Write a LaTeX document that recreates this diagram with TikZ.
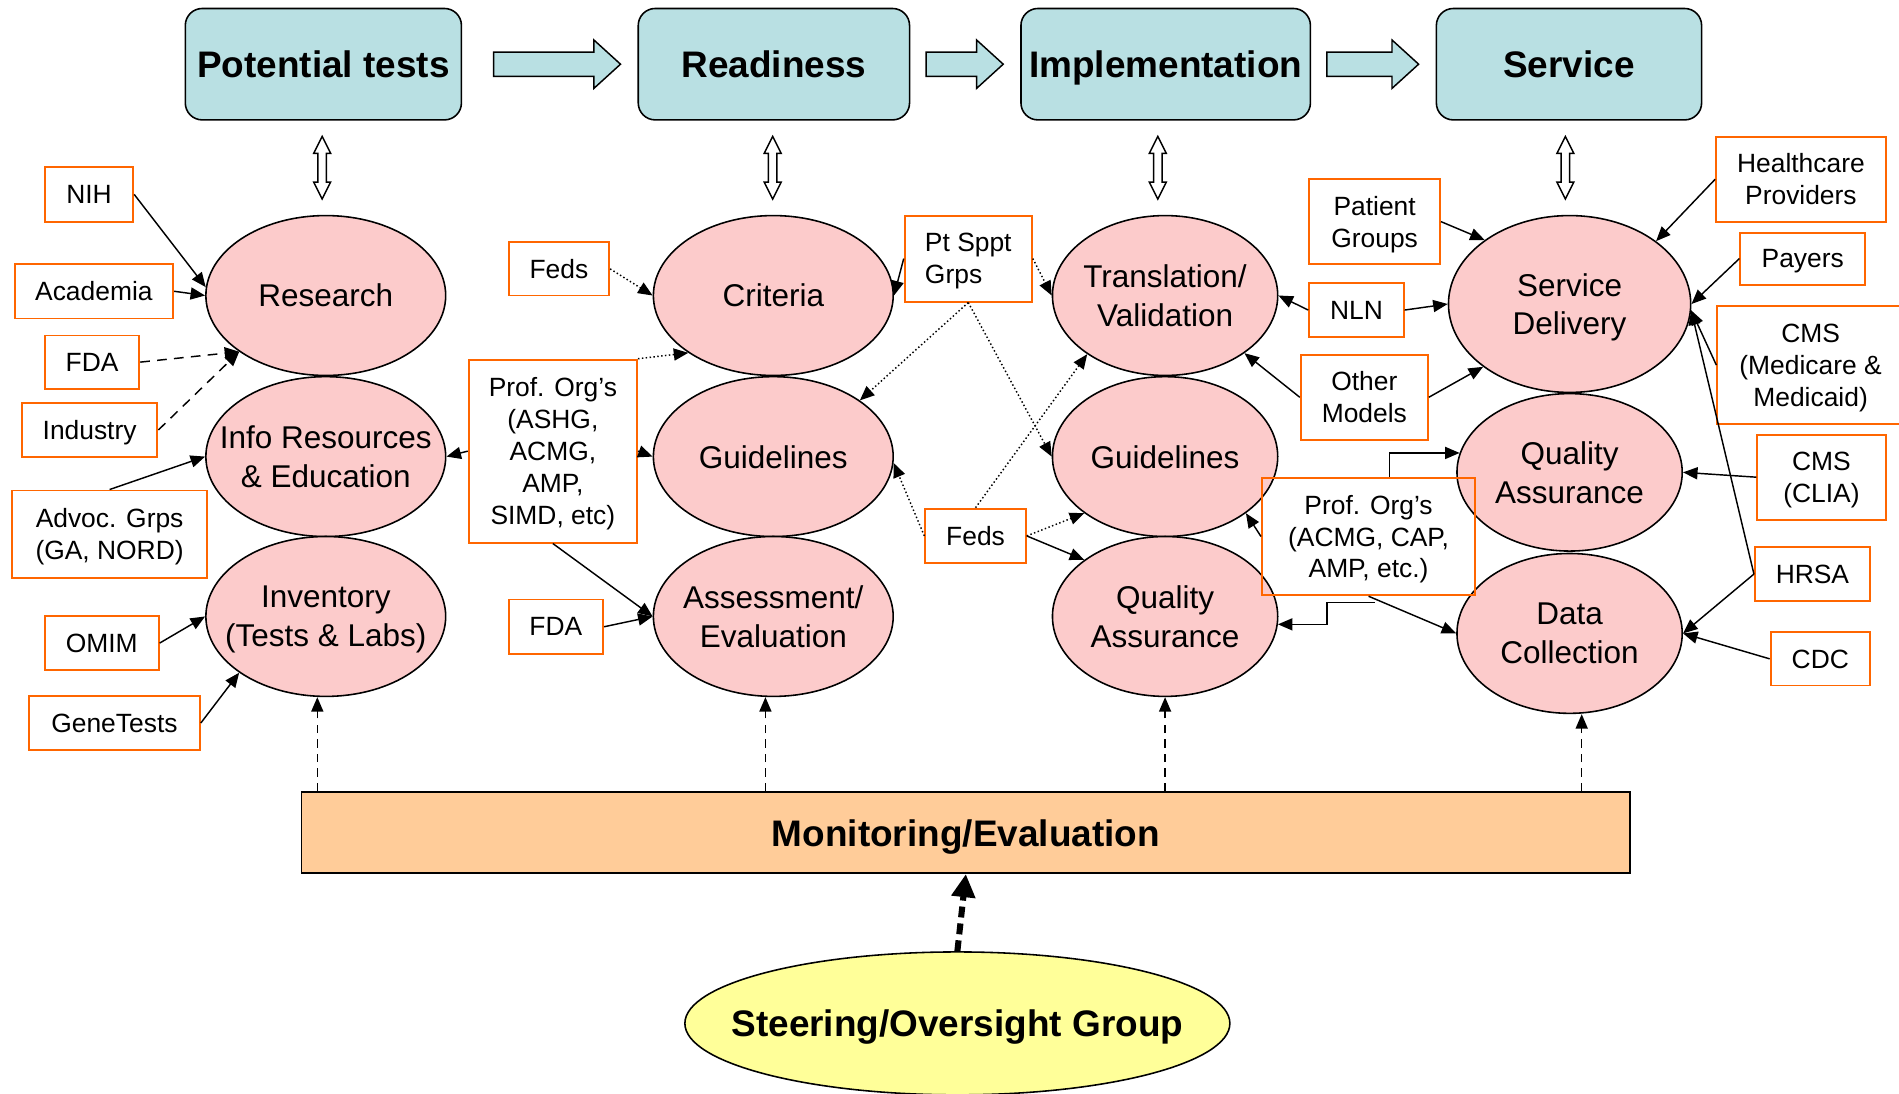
\documentclass[tikz,border=0pt]{standalone}
\usepackage{fontspec}
\setmainfont{Liberation Sans}
\usetikzlibrary{shapes.geometric,arrows.meta,calc}

\definecolor{stagefill}{RGB}{185,224,227}
\definecolor{ovalfill}{RGB}{252,203,203}
\definecolor{barfill}{RGB}{255,204,153}
\definecolor{steerfill}{RGB}{255,255,153}
\definecolor{actorline}{RGB}{255,102,0}

% block arrow between two stages
\newcommand\flowarrow[3]{%
  \draw[flowarr] ($(#1.east)+(#3,-10)$) -- ($(#2.west)+(-36,-10)$) -- ($(#2.west)+(-36,-20)$)
    -- ($(#2.west)+(-14,0)$) -- ($(#2.west)+(-36,20)$) -- ($(#2.west)+(-36,10)$)
    -- ($(#1.east)+(#3,10)$) -- cycle;}
% open two-way arrow from a stage down to its oval
\newcommand\linkarrow[3]{%
  \coordinate (u) at ($(#1.south)+(#3,13)$);
  \coordinate (w) at ($(u |- #2.north)+(0,-13)$);
  \draw[linkarr] (u) -- ++(7,14) -- ++(-3.5,0) -- ($(w)+(3.5,-14)$) -- ++(3.5,0) -- (w)
    -- ++(-7,-14) -- ++(3.5,0) -- ($(u)+(-3.5,14)$) -- ++(-3.5,0) -- cycle;}

\begin{document}
\begin{tikzpicture}[x=1pt,y=-1pt]
    \tikzset{every node/.style={text depth=0pt},
      wh/.style 2 args={minimum width=#1pt,minimum height=#2pt},
      stage/.style={draw,line width=1.3pt,fill=stagefill,rounded corners=14pt,inner sep=0pt,
        font=\fontsize{30.5}{36}\selectfont\bfseries},
      oval/.style={ellipse,draw,line width=1.3pt,fill=ovalfill,inner xsep=-40pt,inner ysep=0pt,
        wh={198}{132},align=center,font=\fontsize{26}{32}\selectfont},
      actor/.style={draw=actorline,line width=1.6pt,fill=white,inner sep=0pt,align=center,
        font=\fontsize{21.8}{26.3}\selectfont},
      flowarr/.style={draw,line width=1.2pt,fill=stagefill},
      linkarr/.style={draw,line width=1.2pt,fill=white},
      feed/.style={-{Triangle[length=12pt,width=10pt]},line width=1.2pt},
      hint/.style={feed,dotted},
      weak/.style={feed,dash pattern=on 8pt off 6pt},
      watch/.style={feed,dash pattern=on 7pt off 5pt},
      steer/.style={-{Triangle[length=19pt,width=19pt]},line width=5pt,dash pattern=on 9pt off 5pt}}
    \useasboundingbox (0,0) rectangle (1568,903);
    % stages
    \node[stage,wh={228}{92}] (PT) at (267,53) {Potential tests};
    \node[stage,wh={224}{92}] (RD) at (639,53) {Readiness};
    \node[stage,wh={239}{92}] (IM) at (962.5,53) {Implementation};
    \node[stage,wh={219}{92}] (SV) at (1295.5,53) {Service};
    \flowarrow{PT}{RD}{26}
    \flowarrow{RD}{IM}{13}
    \flowarrow{IM}{SV}{13}
    %
    \node[oval] (Res) at (269,244) {Research};
    \node[oval] (Inf) at (269,377) {Info Resources\\\& Education};
    \node[oval] (Inv) at (269,509) {Inventory\\(Tests \& Labs)};
    \node[oval] (Cri) at (638.5,244) {Criteria};
    \node[oval] (Gd1) at (638.5,377) {Guidelines};
    \node[oval] (Ass) at (638.5,509) {Assessment/\\Evaluation};
    \node[oval,wh={186}{132}] (Tra) at (962,244) {Translation/\\Validation};
    \node[oval,wh={186}{132}] (Gd2) at (962,377) {Guidelines};
    \node[oval,wh={186}{132}] (QA1) at (962,509) {Quality\\Assurance};
    \node[oval,wh={200}{146}] (SD) at (1296,251) {Service\\Delivery};
    \node[oval,wh={186}{130}] (QA2) at (1296,390) {Quality\\Assurance};
    \node[oval,wh={186}{132}] (DC) at (1296,523) {Data\\Collection};
    \linkarrow{PT}{Res}{-1}
    \linkarrow{RD}{Cri}{-1}
    \linkarrow{IM}{Tra}{-6.5}
    \linkarrow{SV}{SD}{-3}
    %
    \node[draw,line width=1.5pt,fill=barfill,wh={1097}{67},
      font=\fontsize{30.5}{36}\selectfont\bfseries] (Mon) at (797.5,687.5) {Monitoring/Evaluation};
    \node[ellipse,draw,line width=1.3pt,fill=steerfill,wh={450}{118},inner xsep=-40pt,
      font=\fontsize{30.5}{36}\selectfont\bfseries] (Ste) at (790.5,845) {Steering/Oversight Group};
    %
    \node[actor,wh={73}{45}] (NIH) at (73.5,160.5) {NIH};
    \node[actor,wh={131}{45}] (Aca) at (77.5,240.5) {Academia};
    \node[actor,wh={78}{44}] (FDA1) at (76,299) {FDA};
    \node[actor,wh={112}{44}] (Ind) at (74,355) {Industry};
    \node[actor,wh={161}{72}] (Adv) at (90.5,441) {Advoc. Grps\\(GA, NORD)};
    \node[actor,wh={94}{44}] (OMIM) at (84,531) {OMIM};
    \node[actor,wh={141}{44}] (Gen) at (94.5,597) {GeneTests};
    \node[actor,wh={83}{44}] (Fed1) at (461.5,222) {Feds};
    \node[actor,wh={139}{151}] (PO1) at (456.5,372.5) {Prof. Org’s\\(ASHG,\\ACMG,\\AMP,\\SIMD, etc)};
    \node[actor,wh={78}{45}] (FDA2) at (459,517.5) {FDA};
    \node[actor,wh={105}{71},align=left] (PSG) at (799.5,213.5) {Pt Sppt\\Grps};
    \node[actor,wh={83}{45}] (Fed2) at (805.5,442.5) {Feds};
    \node[actor,wh={108}{70}] (PG) at (1135,183) {Patient\\Groups};
    \node[actor,wh={78}{44}] (NLN) at (1120,256) {NLN};
    \node[actor,wh={105}{70}] (OM) at (1126.5,328) {Other\\Models};
    \node[actor,wh={176}{97},fill=none] (PO2) at (1130,443) {Prof. Org’s\\(ACMG, CAP,\\AMP, etc.)};
    \node[actor,wh={140}{70}] (HP) at (1487,148) {Healthcare\\Providers};
    \node[actor,wh={103}{43}] (Pay) at (1488.5,213.5) {Payers};
    \node[actor,wh={154}{97}] (CMS1) at (1495,301.5) {CMS\\(Medicare \&\\Medicaid)};
    \node[actor,wh={106}{70}] (CMS2) at (1504,394) {CMS\\(CLIA)};
    \node[actor,wh={95}{44}] (HRSA) at (1496.5,474) {HRSA};
    \node[actor,wh={82}{44}] (CDC) at (1503,544) {CDC};
    %
    \draw[feed] (NIH.east) -- (Res.176);
    \draw[feed] (Aca.east) -- (Res.west);
    \draw[weak] (FDA1.east) -- (Res.213);
    \draw[weak] (Ind.east) -- (Res.213);
    \draw[feed] (Adv.north) -- (Inf.west);
    \draw[feed] (OMIM.east) -- (Inv.west);
    \draw[feed] (Gen.east) -- (Inv.213);
    \draw[feed] (PO1.west) -- (Inf.east);
    \draw[hint] (PO1.north east) -- (Cri.214);
    \draw[feed] (PO1.east) -- (Gd1.west);
    \draw[feed] (PO1.south) -- (Ass.west);
    \draw[hint] (Fed1.east) -- (Cri.west);
    \draw[feed] (FDA2.east) -- (Ass.west);
    \draw[feed] (PSG.west) -- (Cri.east);
    \draw[hint] (PSG.south) -- (Gd1.33);
    \draw[hint] (PSG.south) -- (Gd2.west);
    \draw[hint] (PSG.east) -- (Tra.west);
    \draw[hint] (Fed2.west) -- (Gd1.357);
    \draw[hint] (Fed2.north) -- (Tra.217);
    \draw[hint] (Fed2.east) -- (Gd2.215);
    \draw[feed] (Fed2.east) -- (QA1.145);
    \draw[feed] (NLN.west) -- (Tra.east);
    \draw[feed] (NLN.east) -- (SD.west);
    \draw[feed] (OM.west) -- (Tra.324);
    \draw[feed] (OM.east) -- (SD.216);
    \draw[feed] (PG.east) -- (SD.143);
    \draw[feed] (HP.west) -- (SD.36);
    \draw[feed] (Pay.west) -- (SD.east);
    \draw[feed] (CMS1.west) -- (SD.357);
    \draw[feed] (HRSA.west) -- (SD.357);
    \draw[feed] (HRSA.west) -- (DC.east);
    \draw[feed] (CDC.west) -- (DC.east);
    \draw[feed] (CMS2.west) -- (QA2.east);
    \draw[feed] ($(PO2.north)+(17.5,0)$) |- (QA2.170);
    \draw[feed] ($(PO2.south)+(5,5)$) -- ++(-39.5,0) |- (QA1.356);
    \draw[feed] (PO2.south) -- (DC.west);
    \draw[feed] (PO2.west) -- (Gd2.325);
    %
    \draw[watch] ($(Inv.south |- Mon.north)+(-7,0)$) -- ($(Inv.south)+(-7,0)$);
    \draw[watch] ($(Ass.south |- Mon.north)+(-6.5,0)$) -- ($(Ass.south)+(-6.5,0)$);
    \draw[watch] (QA1.south |- Mon.north) -- (QA1.south);
    \draw[watch] ($(DC.south |- Mon.north)+(10,0)$) -- ($(DC.south)+(10,0)$);
    \draw[steer] (Ste.north) -- (Mon.south);
\end{tikzpicture}
\end{document}
